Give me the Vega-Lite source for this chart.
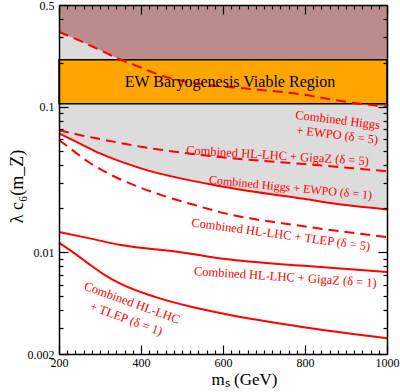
{
  "$schema": "https://vega.github.io/schema/vega-lite/v6.json",
  "width": 328,
  "height": 349,
  "autosize": "none",
  "padding": {"left": 59, "top": 5, "right": 13, "bottom": 38},
  "background": "white",
  "config": {
    "view": {"stroke": null},
    "font": "Liberation Serif",
    "axis": {"grid": false, "labelFont": "Liberation Serif", "labelColor": "#000", "titleFont": "Liberation Serif", "titleColor": "#000", "titleFontWeight": "normal", "labelOverlap": false, "labelFlush": false}
  },
  "datasets": {
    "curves": [
      {"series": "Higgs+EWPO d5", "delta": 5, "m": 200, "v": 0.326},
      {"series": "Higgs+EWPO d5", "delta": 5, "m": 250, "v": 0.285},
      {"series": "Higgs+EWPO d5", "delta": 5, "m": 300, "v": 0.245},
      {"series": "Higgs+EWPO d5", "delta": 5, "m": 348, "v": 0.212},
      {"series": "Higgs+EWPO d5", "delta": 5, "m": 400, "v": 0.186},
      {"series": "Higgs+EWPO d5", "delta": 5, "m": 446, "v": 0.165},
      {"series": "Higgs+EWPO d5", "delta": 5, "m": 544, "v": 0.143},
      {"series": "Higgs+EWPO d5", "delta": 5, "m": 650, "v": 0.134},
      {"series": "Higgs+EWPO d5", "delta": 5, "m": 788, "v": 0.122},
      {"series": "Higgs+EWPO d5", "delta": 5, "m": 900, "v": 0.108},
      {"series": "Higgs+EWPO d5", "delta": 5, "m": 1000, "v": 0.100},
      {"series": "HL-LHC+GigaZ d5", "delta": 5, "m": 200, "v": 0.0691},
      {"series": "HL-LHC+GigaZ d5", "delta": 5, "m": 250, "v": 0.064},
      {"series": "HL-LHC+GigaZ d5", "delta": 5, "m": 300, "v": 0.060},
      {"series": "HL-LHC+GigaZ d5", "delta": 5, "m": 400, "v": 0.0531},
      {"series": "HL-LHC+GigaZ d5", "delta": 5, "m": 507, "v": 0.0481},
      {"series": "HL-LHC+GigaZ d5", "delta": 5, "m": 592, "v": 0.0451},
      {"series": "HL-LHC+GigaZ d5", "delta": 5, "m": 797, "v": 0.0404},
      {"series": "HL-LHC+GigaZ d5", "delta": 5, "m": 1000, "v": 0.0361},
      {"series": "HL-LHC+TLEP d5", "delta": 5, "m": 200, "v": 0.059},
      {"series": "HL-LHC+TLEP d5", "delta": 5, "m": 222, "v": 0.0531},
      {"series": "HL-LHC+TLEP d5", "delta": 5, "m": 271, "v": 0.0419},
      {"series": "HL-LHC+TLEP d5", "delta": 5, "m": 320, "v": 0.0348},
      {"series": "HL-LHC+TLEP d5", "delta": 5, "m": 393, "v": 0.0282},
      {"series": "HL-LHC+TLEP d5", "delta": 5, "m": 450, "v": 0.0247},
      {"series": "HL-LHC+TLEP d5", "delta": 5, "m": 531, "v": 0.0211},
      {"series": "HL-LHC+TLEP d5", "delta": 5, "m": 605, "v": 0.0185},
      {"series": "HL-LHC+TLEP d5", "delta": 5, "m": 797, "v": 0.0151},
      {"series": "HL-LHC+TLEP d5", "delta": 5, "m": 1000, "v": 0.0127},
      {"series": "Higgs+EWPO d1", "delta": 1, "m": 200, "v": 0.0656},
      {"series": "Higgs+EWPO d1", "delta": 1, "m": 250, "v": 0.056},
      {"series": "Higgs+EWPO d1", "delta": 1, "m": 300, "v": 0.0478},
      {"series": "Higgs+EWPO d1", "delta": 1, "m": 400, "v": 0.0377},
      {"series": "Higgs+EWPO d1", "delta": 1, "m": 605, "v": 0.0281},
      {"series": "Higgs+EWPO d1", "delta": 1, "m": 797, "v": 0.0233},
      {"series": "Higgs+EWPO d1", "delta": 1, "m": 900, "v": 0.0211},
      {"series": "Higgs+EWPO d1", "delta": 1, "m": 1000, "v": 0.0197},
      {"series": "HL-LHC+GigaZ d1", "delta": 1, "m": 200, "v": 0.0138},
      {"series": "HL-LHC+GigaZ d1", "delta": 1, "m": 275, "v": 0.01246},
      {"series": "HL-LHC+GigaZ d1", "delta": 1, "m": 351, "v": 0.0112},
      {"series": "HL-LHC+GigaZ d1", "delta": 1, "m": 500, "v": 0.00998},
      {"series": "HL-LHC+GigaZ d1", "delta": 1, "m": 605, "v": 0.00898},
      {"series": "HL-LHC+GigaZ d1", "delta": 1, "m": 797, "v": 0.00807},
      {"series": "HL-LHC+GigaZ d1", "delta": 1, "m": 1000, "v": 0.00731},
      {"series": "HL-LHC+TLEP d1", "delta": 1, "m": 200, "v": 0.0116},
      {"series": "HL-LHC+TLEP d1", "delta": 1, "m": 238, "v": 0.00983},
      {"series": "HL-LHC+TLEP d1", "delta": 1, "m": 271, "v": 0.00839},
      {"series": "HL-LHC+TLEP d1", "delta": 1, "m": 312, "v": 0.00697},
      {"series": "HL-LHC+TLEP d1", "delta": 1, "m": 352, "v": 0.00604},
      {"series": "HL-LHC+TLEP d1", "delta": 1, "m": 434, "v": 0.00494},
      {"series": "HL-LHC+TLEP d1", "delta": 1, "m": 515, "v": 0.00427},
      {"series": "HL-LHC+TLEP d1", "delta": 1, "m": 605, "v": 0.00376},
      {"series": "HL-LHC+TLEP d1", "delta": 1, "m": 797, "v": 0.00305},
      {"series": "HL-LHC+TLEP d1", "delta": 1, "m": 1000, "v": 0.00257}
    ]
  },
  "layer": [
    {
      "data": {"name": "curves"},
      "transform": [{"filter": "datum.series === 'Higgs+EWPO d1'"}],
      "mark": {"type": "area", "fill": "#dcdcdc", "interpolate": "monotone"},
      "encoding": {
        "x": {"field": "m", "type": "quantitative", "scale": {"domain": [200, 1000], "nice": false, "zero": false},
          "axis": {"orient": "bottom", "zindex": 1, "domain": true, "domainColor": "#000", "domainWidth": 1.5,
            "values": [200,220,240,260,280,300,320,340,360,380,400,420,440,460,480,500,520,540,560,580,600,620,640,660,680,700,720,740,760,780,800,820,840,860,880,900,920,940,960,980,1000],
            "format": "d", "labelExpr": "datum.value % 200 === 0 ? datum.label : ''",
            "tickColor": "#000", "tickWidth": 1.2,
            "tickSize": {"condition": {"test": "datum.value % 200 === 0", "value": -9}, "value": -4},
            "labelPadding": 12, "labelFontSize": 12,
            "title": "mₛ (GeV)", "titleFontSize": 17, "titleX": 185, "titleY": 17}},
        "y": {"field": "v", "type": "quantitative", "scale": {"type": "log", "domain": [0.002, 0.5], "nice": false},
          "axis": {"orient": "left", "zindex": 1, "domain": true, "domainColor": "#000", "domainWidth": 1.5,
            "values": [0.002,0.003,0.004,0.005,0.006,0.007,0.008,0.009,0.01,0.02,0.03,0.04,0.05,0.06,0.07,0.08,0.09,0.1,0.2,0.3,0.4,0.5],
            "format": "~g", "labelExpr": "(datum.value === 0.002 || datum.value === 0.01 || datum.value === 0.1 || datum.value === 0.5) ? datum.label : ''",
            "tickColor": "#000", "tickWidth": 1.2,
            "tickSize": {"condition": {"test": "datum.value === 0.002 || datum.value === 0.01 || datum.value === 0.1 || datum.value === 0.5", "value": -9}, "value": -4},
            "labelPadding": 14, "labelFontSize": 12,
            "title": "λ c₆(m_Z)", "titleFontSize": 18, "titleX": -33, "titleY": 181}},
        "y2": {"datum": 0.5}
      }
    },
    {
      "data": {"name": "curves"},
      "transform": [{"filter": "datum.series === 'Higgs+EWPO d5'"}],
      "mark": {"type": "area", "fill": "#bc8c8c", "interpolate": "monotone"},
      "encoding": {
        "x": {"field": "m", "type": "quantitative", "scale": {"domain": [200, 1000], "nice": false, "zero": false}, "axis": null},
        "y": {"field": "v", "type": "quantitative", "scale": {"type": "log", "domain": [0.002, 0.5], "nice": false}, "axis": null},
        "y2": {"datum": 0.5}
      }
    },
    {
      "data": {"values": [{"m0": 200, "m1": 1000, "lo": 0.105, "hi": 0.21}]},
      "mark": {"type": "rect", "fill": "#ffa500", "stroke": "#000", "strokeWidth": 1.5},
      "encoding": {
        "x": {"field": "m0", "type": "quantitative", "scale": {"domain": [200, 1000], "nice": false, "zero": false},
          "axis": {"orient": "top", "zindex": 1, "domain": true, "domainColor": "#000", "domainWidth": 1.5,
            "values": [200,220,240,260,280,300,320,340,360,380,400,420,440,460,480,500,520,540,560,580,600,620,640,660,680,700,720,740,760,780,800,820,840,860,880,900,920,940,960,980,1000],
            "labels": false, "tickColor": "#000", "tickWidth": 1.2,
            "tickSize": {"condition": {"test": "datum.value % 200 === 0", "value": -9}, "value": -4},
            "title": null}},
        "x2": {"field": "m1"},
        "y": {"field": "lo", "type": "quantitative", "scale": {"type": "log", "domain": [0.002, 0.5], "nice": false},
          "axis": {"orient": "right", "zindex": 1, "domain": true, "domainColor": "#000", "domainWidth": 1.5,
            "values": [0.002,0.003,0.004,0.005,0.006,0.007,0.008,0.009,0.01,0.02,0.03,0.04,0.05,0.06,0.07,0.08,0.09,0.1,0.2,0.3,0.4,0.5],
            "labels": false, "tickColor": "#000", "tickWidth": 1.2,
            "tickSize": {"condition": {"test": "datum.value === 0.002 || datum.value === 0.01 || datum.value === 0.1 || datum.value === 0.5", "value": -9}, "value": -4},
            "title": null}},
        "y2": {"field": "hi"}
      }
    },
    {
      "data": {"name": "curves"},
      "transform": [{"filter": "datum.delta === 5"}],
      "mark": {"type": "line", "color": "#ff0000", "strokeWidth": 2, "strokeDash": [10, 6], "interpolate": "monotone"},
      "encoding": {
        "x": {"field": "m", "type": "quantitative", "scale": {"domain": [200, 1000], "nice": false, "zero": false}, "axis": null},
        "y": {"field": "v", "type": "quantitative", "scale": {"type": "log", "domain": [0.002, 0.5], "nice": false}, "axis": null},
        "detail": {"field": "series"}
      }
    },
    {
      "data": {"name": "curves"},
      "transform": [{"filter": "datum.delta === 1"}],
      "mark": {"type": "line", "color": "#ff0000", "strokeWidth": 2, "interpolate": "monotone"},
      "encoding": {
        "x": {"field": "m", "type": "quantitative", "axis": null},
        "y": {"field": "v", "type": "quantitative", "axis": null},
        "detail": {"field": "series"}
      }
    },
    {
      "data": {"values": [{"m": 617, "v": 0.1485, "label": "EW Baryogenesis Viable Region"}]},
      "mark": {"type": "text", "font": "Liberation Serif", "fontSize": 16, "color": "#000", "align": "center", "baseline": "middle"},
      "encoding": {
        "x": {"field": "m", "type": "quantitative", "axis": null},
        "y": {"field": "v", "type": "quantitative", "axis": null},
        "text": {"field": "label"}
      }
    },
    {
      "data": {"values": [{"m": 983, "v": 0.0748, "label": "Combined Higgs\n+ EWPO (δ = 5)"}]},
      "mark": {"type": "text", "font": "Liberation Serif", "fontSize": 12.5, "color": "#ff0000", "align": "right", "baseline": "middle", "angle": 7, "lineBreak": "\n", "lineHeight": 15},
      "encoding": {
        "x": {"field": "m", "type": "quantitative", "axis": null},
        "y": {"field": "v", "type": "quantitative", "axis": null},
        "text": {"field": "label"}
      }
    },
    {
      "data": {"values": [{"m": 733, "v": 0.0462, "label": "Combined HL-LHC + GigaZ (δ = 5)"}]},
      "mark": {"type": "text", "font": "Liberation Serif", "fontSize": 12.5, "color": "#ff0000", "align": "center", "baseline": "middle", "angle": 3.5},
      "encoding": {
        "x": {"field": "m", "type": "quantitative", "axis": null},
        "y": {"field": "v", "type": "quantitative", "axis": null},
        "text": {"field": "label"}
      }
    },
    {
      "data": {"values": [{"m": 765, "v": 0.0279, "label": "Combined Higgs + EWPO (δ = 1)"}]},
      "mark": {"type": "text", "font": "Liberation Serif", "fontSize": 12, "color": "#ff0000", "align": "center", "baseline": "middle", "angle": 5.5},
      "encoding": {
        "x": {"field": "m", "type": "quantitative", "axis": null},
        "y": {"field": "v", "type": "quantitative", "axis": null},
        "text": {"field": "label"}
      }
    },
    {
      "data": {"values": [{"m": 741, "v": 0.01324, "label": "Combined HL-LHC + TLEP (δ = 5)"}]},
      "mark": {"type": "text", "font": "Liberation Serif", "fontSize": 12.5, "color": "#ff0000", "align": "center", "baseline": "middle", "angle": 7.7},
      "encoding": {
        "x": {"field": "m", "type": "quantitative", "axis": null},
        "y": {"field": "v", "type": "quantitative", "axis": null},
        "text": {"field": "label"}
      }
    },
    {
      "data": {"values": [{"m": 752, "v": 0.00676, "label": "Combined HL-LHC + GigaZ (δ = 1)"}]},
      "mark": {"type": "text", "font": "Liberation Serif", "fontSize": 12.5, "color": "#ff0000", "align": "center", "baseline": "middle", "angle": 3.8},
      "encoding": {
        "x": {"field": "m", "type": "quantitative", "axis": null},
        "y": {"field": "v", "type": "quantitative", "axis": null},
        "text": {"field": "label"}
      }
    },
    {
      "data": {"values": [{"m": 378, "v": 0.0045, "label": "Combined HL-LHC\n+ TLEP (δ = 1)"}]},
      "mark": {"type": "text", "font": "Liberation Serif", "fontSize": 12.5, "color": "#ff0000", "align": "center", "baseline": "middle", "angle": 20, "lineBreak": "\n", "lineHeight": 17},
      "encoding": {
        "x": {"field": "m", "type": "quantitative", "axis": null},
        "y": {"field": "v", "type": "quantitative", "axis": null},
        "text": {"field": "label"}
      }
    }
  ],
  "resolve": {"axis": {"x": "independent", "y": "independent"}}
}
